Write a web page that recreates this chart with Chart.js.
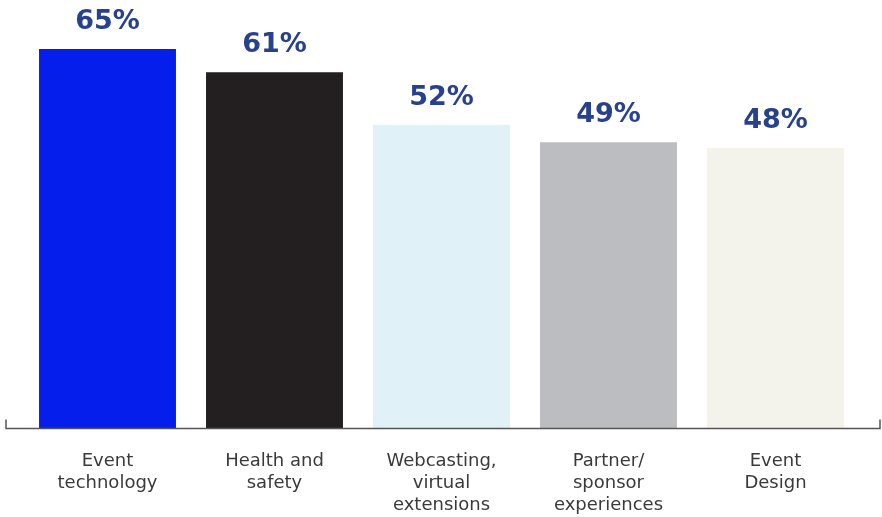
<!DOCTYPE html>
<html>
<head>
<meta charset="utf-8">
<script src="https://cdn.jsdelivr.net/npm/chart.js@4"></script>
<style>
  html, body { margin: 0; padding: 0; background: #fff; }
  #wrap { width: 882px; height: 517px; }
</style>
</head>
<body>
<div id="wrap"><canvas id="chart"></canvas></div>
<script>
const categories = [
  ['Event', 'technology'],
  ['Health and', 'safety'],
  ['Webcasting,', 'virtual', 'extensions'],
  ['Partner/', 'sponsor', 'experiences'],
  ['Event', 'Design']
];
const shares = [65, 61, 52, 49, 48];
const barColors = ['#061EEC', '#231F20', '#E0F1F8', '#BCBDC0', '#F4F3EB'];

// percent labels above each bar + baseline with end ticks
const valueLabels = {
  id: 'valueLabels',
  afterDatasetsDraw(chart) {
    const ctx = chart.ctx;
    const meta = chart.getDatasetMeta(0);
    ctx.save();
    ctx.font = 'bold 27px "DejaVu Sans"';
    ctx.fillStyle = '#27418F';
    ctx.textAlign = 'center';
    ctx.textBaseline = 'alphabetic';
    meta.data.forEach((bar, i) => {
      ctx.fillText(shares[i] + '%', bar.x, bar.y - 20);
    });

    const y = chart.chartArea.bottom + 0.5;
    ctx.strokeStyle = '#555';
    ctx.lineWidth = 1.5;
    ctx.beginPath();
    ctx.moveTo(6, y - 9);
    ctx.lineTo(6, y);
    ctx.lineTo(880, y);
    ctx.lineTo(880, y - 9);
    ctx.stroke();
    ctx.restore();
  }
};

new Chart(document.getElementById('chart'), {
  type: 'bar',
  data: {
    labels: categories,
    datasets: [{
      data: shares,
      backgroundColor: barColors,
      barPercentage: 0.82,
      categoryPercentage: 1
    }]
  },
  options: {
    responsive: true,
    maintainAspectRatio: false,
    animation: false,
    layout: { padding: { top: 49, left: 24, right: 23, bottom: 0 } },
    plugins: { legend: { display: false }, tooltip: { enabled: false } },
    scales: {
      x: {
        grid: { display: false, drawTicks: false },
        border: { display: false },
        afterFit(scale) { scale.height = 89; },
        ticks: {
          padding: 22,
          color: '#3a3a3a',
          font: { family: 'DejaVu Sans', size: 18, lineHeight: '22px' },
          maxRotation: 0,
          autoSkip: false
        }
      },
      y: { display: false, min: 0, max: 65 }
    }
  },
  plugins: [valueLabels]
});
</script>
</body>
</html>
